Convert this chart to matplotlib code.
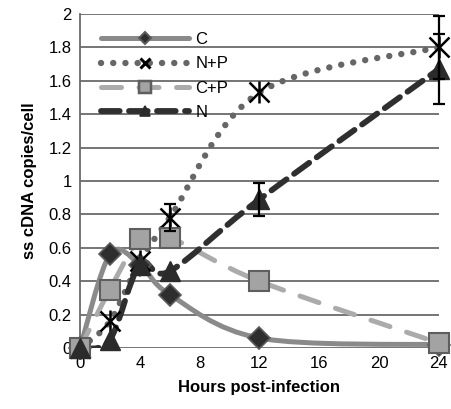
import numpy as np
import matplotlib.pyplot as plt
from matplotlib.path import Path
from matplotlib.patches import PathPatch
from matplotlib.lines import Line2D

plt.rcParams['font.family'] = ['Liberation Sans', 'DejaVu Sans']

hours = [0, 2, 4, 6, 12, 24]
c_vals = [0, 0.56, 0.50, 0.32, 0.06, 0.02]
np_vals = [0, 0.16, 0.52, 0.78, 1.53, 1.80]
cp_vals = [0, 0.35, 0.65, 0.66, 0.40, 0.03]
n_vals = [0, 0.05, 0.50, 0.46, 0.89, 1.67]
np_err = [0, 0, 0, 0.08, 0, 0.19]
n_err = [0, 0, 0, 0, 0.10, 0.21]
yticks = [0, 0.2, 0.4, 0.6, 0.8, 1, 1.2, 1.4, 1.6, 1.8, 2]
xticks = [0, 4, 8, 12, 16, 20, 24]


def smooth_path(x, y):
    # excel-like smoothed line (catmull-rom as bezier)
    p = np.column_stack([x, y]).astype(float)
    pts = np.vstack([p[0], p, p[-1]])
    verts = [p[0]]
    codes = [Path.MOVETO]
    for i in range(1, len(pts) - 2):
        c1 = pts[i] + (pts[i + 1] - pts[i - 1]) / 6
        c2 = pts[i + 1] - (pts[i + 2] - pts[i]) / 6
        verts += [c1, c2, pts[i + 1]]
        codes += [Path.CURVE4] * 3
    return Path(verts, codes)


series = [
    dict(label='C', y=c_vals, color='#8a8a8a', lw=3.6, ls='-',
         marker='D', ms=11, mfc='#2e2e2e', mec='#5a5a5a', mew=1.2),
    dict(label='N+P', y=np_vals, color='#666666', lw=4.6, ls=(0, (0.01, 1.9)),
         marker='x', ms=14, mfc='k', mec='k', mew=1.8),
    dict(label='C+P', y=cp_vals, color='#ababab', lw=3.6, ls=(0, (4, 3.5)),
         marker='s', ms=15, mfc='#a3a3a3', mec='#5e5e5e', mew=1.5),
    dict(label='N', y=n_vals, color='#2f2f2f', lw=4.2, ls=(0, (3.2, 1.6)),
         marker='^', ms=14, mfc='#2b2b2b', mec='#2b2b2b', mew=1),
]

fig = plt.figure(figsize=(4.52, 4.09), dpi=100)
ax = fig.add_axes([0.177, 0.149, 0.794, 0.817])

handles = []
for i, s in enumerate(series):
    patch = PathPatch(smooth_path(hours, s['y']), fill=False, edgecolor=s['color'],
                      lw=s['lw'], linestyle=s['ls'], capstyle='round', zorder=2 + i * 0.1)
    ax.add_patch(patch)
    ax.plot(hours, s['y'], ls='none', marker=s['marker'], ms=s['ms'], mfc=s['mfc'],
            mec=s['mec'], mew=s['mew'], clip_on=False, zorder=3 + i * 0.1)
    if s['label'] == 'N+P':
        # asterisk = x plus vertical bar
        ax.plot(hours, s['y'], ls='none', marker='|', ms=s['ms'] * 1.15, mec='k',
                mew=s['mew'], clip_on=False, zorder=3 + i * 0.1)
    h = Line2D([], [], color=s['color'], lw=s['lw'], ls=s['ls'], dash_capstyle='round',
               solid_capstyle='round', marker=s['marker'], ms=s['ms'] * 0.55,
               mfc=s['mfc'], mec=s['mec'], mew=s['mew'] * 1.2)
    handles.append(h)

for vals, err in [(np_vals, np_err), (n_vals, n_err)]:
    idx = [i for i, e in enumerate(err) if e > 0]
    ax.errorbar([hours[i] for i in idx], [vals[i] for i in idx], yerr=[err[i] for i in idx],
                fmt='none', ecolor='k', elinewidth=1.6, capsize=4, capthick=1.6,
                clip_on=False, zorder=5)

ax.set_xlim(0, 24)
ax.set_ylim(0, 2)
ax.set_xticks(xticks)
ax.set_yticks(yticks)
ax.set_yticklabels(['%g' % t for t in yticks])
ax.grid(axis='y', color='#6a6a6a', lw=1.3)
ax.set_axisbelow(True)
for sp in ['top', 'right', 'bottom']:
    ax.spines[sp].set_visible(False)
ax.spines['left'].set_color('#6a6a6a')
ax.spines['left'].set_linewidth(1.3)
ax.tick_params(length=0, labelsize=12, pad=6)
ax.set_xlabel('Hours post-infection', fontsize=12, fontweight='bold', labelpad=6)
ax.set_ylabel('ss cDNA copies/cell', fontsize=12, fontweight='bold', labelpad=8)

ax.legend(handles, [s['label'] for s in series], loc='upper left', frameon=False,
          handlelength=5.3, fontsize=12, labelspacing=0.55, borderaxespad=0.4,
          bbox_to_anchor=(0.02, 0.985), handletextpad=0.4)

fig.savefig('out.png', dpi=100)
